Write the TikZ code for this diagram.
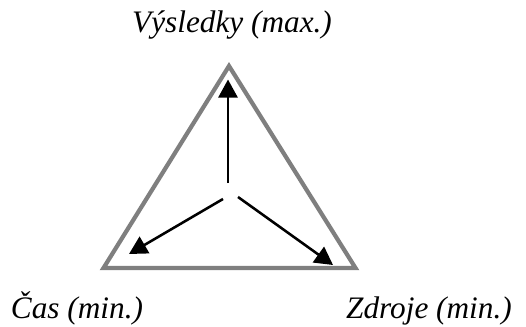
\documentclass[tikz,border=0pt]{standalone}
\usepackage{fontspec}
\setmainfont{Liberation Serif}
\usepackage{tikz}
\usetikzlibrary{arrows.meta,positioning,calc}
\definecolor{triline}{HTML}{7F7F7F}

\begin{document}
\begin{tikzpicture}[
  font=\fontsize{17.8}{20}\selectfont\itshape,
  frame/.style={draw=triline, line width=2.4pt, miter limit=10},
  arr/.style={-{Triangle[length=3.6mm, width=3.8mm]}, line width=1.45pt, draw=black},
  lbl/.style={anchor=base, inner sep=0pt}
]
\useasboundingbox (0,0) rectangle (10.52,6.52);
% corners of the triangle
\coordinate (top) at (4.58,5.20);
\coordinate (left) at (2.07,1.16);
\coordinate (right) at (7.11,1.16);
\draw[frame] (top) -- (right) -- (left) -- cycle;
% arrows from the middle
\coordinate (upstart) at (4.56,2.86);
\coordinate (leftstart) at (4.46,2.54);
\coordinate (rightstart) at (4.76,2.58);
\coordinate (uptip) at (4.56,4.93);
\coordinate (lefttip) at (2.58,1.44);
\coordinate (righttip) at (6.66,1.22);
\draw[arr] (upstart) -- (uptip);
\draw[arr] (leftstart) -- (lefttip);
\draw[arr] (rightstart) -- (righttip);
% labels
\node[lbl] (results) at (4.64,5.86) {Výsledky (max.)};
\node[lbl] (time) at (1.54,0.16) {Čas (min.)};
\node[lbl] (resources) at (8.58,0.16) {Zdroje (min.)};
\end{tikzpicture}
\end{document}
